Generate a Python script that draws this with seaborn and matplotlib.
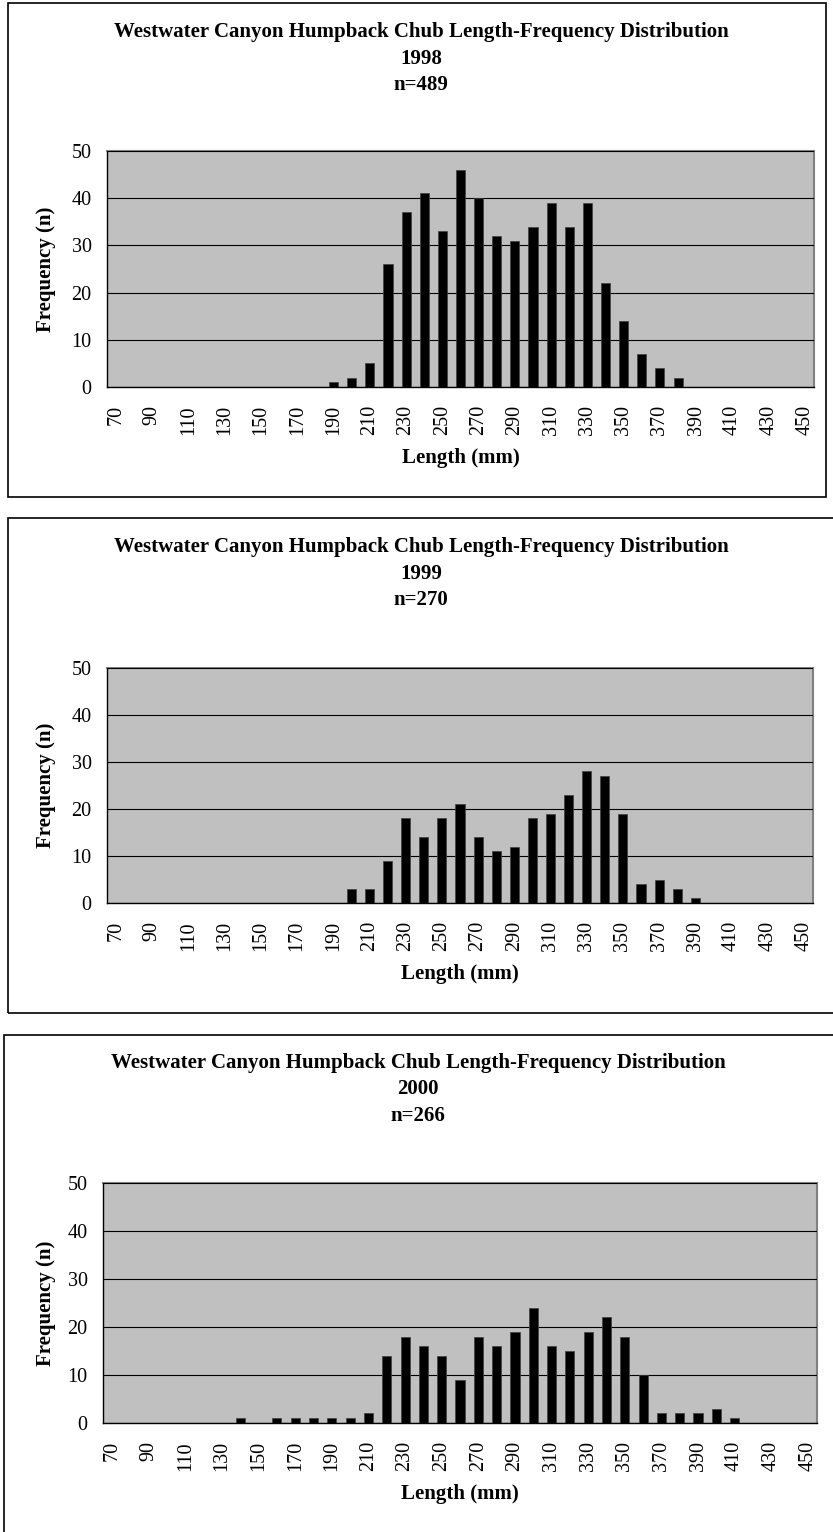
"""
Westwater Canyon humpback chub length-frequency distributions, 1998-2000.
Three stacked Excel-style column charts.
"""

import matplotlib
matplotlib.use("Agg")
import matplotlib.pyplot as plt
from matplotlib.patches import Rectangle
import seaborn as sns
import pandas as pd

# ---- data -----------------------------------------------------------------
lengths = [70, 80, 90, 100, 110, 120, 130, 140, 150, 160, 170, 180, 190,
           200, 210, 220, 230, 240, 250, 260, 270, 280, 290, 300, 310, 320,
           330, 340, 350, 360, 370, 380, 390, 400, 410, 420, 430, 440, 450]

freq_1998 = [0, 0, 0, 0, 0, 0, 0, 0, 0, 0, 0, 0, 1,
             2, 5, 26, 37, 41, 33, 46, 40, 32, 31, 34, 39, 34,
             39, 22, 14, 7, 4, 2, 0, 0, 0, 0, 0, 0, 0]

freq_1999 = [0, 0, 0, 0, 0, 0, 0, 0, 0, 0, 0, 0, 0,
             3, 3, 9, 18, 14, 18, 21, 14, 11, 12, 18, 19, 23,
             28, 27, 19, 4, 5, 3, 1, 0, 0, 0, 0, 0, 0]

freq_2000 = [0, 0, 0, 0, 0, 0, 0, 1, 0, 1, 1, 1, 1,
             1, 2, 14, 18, 16, 14, 9, 18, 16, 19, 24, 16, 15,
             19, 22, 18, 10, 2, 2, 2, 3, 1, 0, 0, 0, 0]

years = ["1998", "1999", "2000"]
sample_sizes = [489, 270, 266]
y_ticks = [0, 10, 20, 30, 40, 50]

TITLE = "Westwater Canyon Humpback Chub Length-Frequency Distribution"

W, H = 833, 1532

# panel layout in pixels: (box left, box top, box right, box bottom),
# (plot left, plot top, plot right, plot bottom), title centre x, title first line y
panels = [
    ((8, 3, 826, 497), (107, 151, 814, 387), 421, 32),
    ((8, 518, 845, 1013), (107, 668, 813, 903), 421, 547),
    ((4, 1035, 845, 1545), (103, 1183, 817, 1423), 418, 1063),
]


def fx(x):
    return x / W


def fy(y):
    return 1 - y / H


def draw_panel(fig, df, year, n, layout):
    box, plot, tx, ty = layout

    # outer chart border
    bl, bt, br, bb = box
    fig.patches.append(Rectangle((fx(bl), fy(bb)), fx(br - bl), (bb - bt) / H,
                                 transform=fig.transFigure, fill=False,
                                 edgecolor="black", linewidth=1.2, zorder=0))

    pl, pt, pr, pb = plot
    ax = fig.add_axes([fx(pl), fy(pb), fx(pr - pl), (pb - pt) / H])
    ax.set_facecolor("#C0C0C0")

    sns.barplot(data=df, x="length", y="freq", color="black", width=0.5,
                edgecolor="#404040", linewidth=0.5, saturation=1, ax=ax,
                zorder=3)

    ax.set_xlim(-0.5, len(lengths) - 0.5)
    ax.set_ylim(0, 50)
    ax.set_yticks(y_ticks)
    ax.set_yticklabels([str(v) for v in y_ticks])
    ax.yaxis.grid(True, color="black", linewidth=0.8)
    ax.set_axisbelow(False)
    for line in ax.get_ygridlines():
        line.set_zorder(1)

    # labels every second category, tick marks at category boundaries
    ax.set_xticks(list(range(0, len(lengths), 2)))
    ax.set_xticklabels([str(v) for v in lengths[::2]], rotation=90)
    ax.set_xticks([i - 0.5 for i in range(len(lengths) + 1)], minor=True)
    ax.tick_params(axis="x", which="major", length=0, pad=13)
    ax.tick_params(axis="x", which="minor", length=4, width=1, direction="out")
    ax.tick_params(axis="y", length=5, width=1, pad=6, direction="out")
    ax.set_xlabel("")
    ax.set_ylabel("")

    for side in ["top", "right"]:
        ax.spines[side].set_color("#808080")
        ax.spines[side].set_linewidth(1.5)
    for side in ["left", "bottom"]:
        ax.spines[side].set_color("black")
        ax.spines[side].set_linewidth(1.0)

    # titles and axis labels
    for i, line in enumerate([TITLE, year, f"n={n}"]):
        fig.text(fx(tx), fy(ty + i * 26.5), line, ha="center", va="center",
                 fontweight="bold", fontsize=15)
    fig.text(fx(46), fy((pt + pb) / 2), "Frequency (n)", rotation=90,
             ha="center", va="center", fontweight="bold", fontsize=15)
    fig.text(fx((pl + pr) / 2), fy(pb + 71), "Length (mm)", ha="center",
             va="center", fontweight="bold", fontsize=15)
    return ax


def main():
    sns.set_theme(style="white")
    plt.rcParams.update({
        "font.family": ["Liberation Serif", "DejaVu Serif"],
        "font.size": 14.5,
        "xtick.labelsize": 14.5,
        "ytick.labelsize": 14.5,
        "xtick.color": "black",
        "ytick.color": "black",
        "text.color": "black",
    })

    fig = plt.figure(figsize=(W / 100, H / 100), dpi=100)
    fig.patch.set_facecolor("white")

    series = [freq_1998, freq_1999, freq_2000]
    for year, n, freqs, layout in zip(years, sample_sizes, series, panels):
        df = pd.DataFrame({"length": [str(v) for v in lengths], "freq": freqs})
        draw_panel(fig, df, year, n, layout)

    fig.savefig("out.png", dpi=100, facecolor="white")
    plt.close(fig)


if __name__ == "__main__":
    main()
